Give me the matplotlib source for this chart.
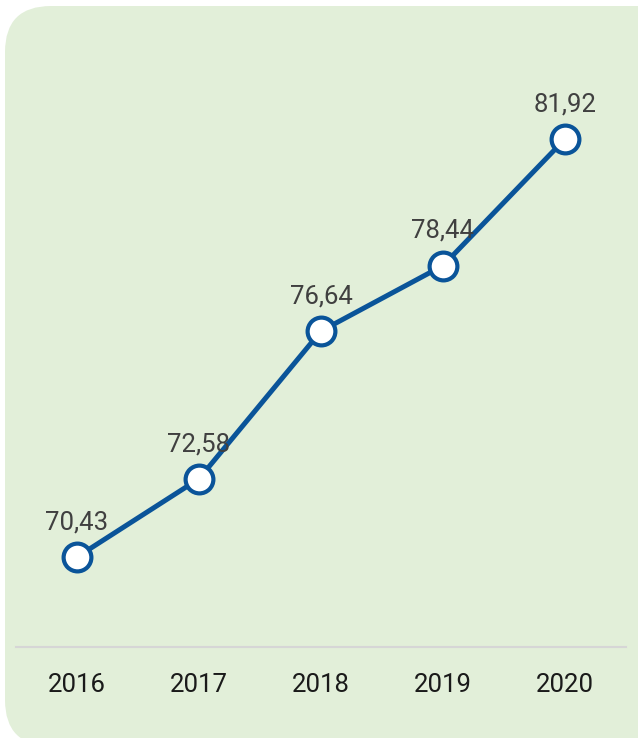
import matplotlib.pyplot as plt
from matplotlib.patches import FancyBboxPatch

# data
years = ['2016', '2017', '2018', '2019', '2020']
values = [70.43, 72.58, 76.64, 78.44, 81.92]
value_labels = ['70,43', '72,58', '76,64', '78,44', '81,92']

W, H = 638, 738
fig = plt.figure(figsize=(W / 100, H / 100), dpi=100)

# rounded green card behind everything
bg = fig.add_axes([0, 0, 1, 1])
bg.set_xlim(0, W)
bg.set_ylim(H, 0)
bg.axis('off')
card = FancyBboxPatch((5, 6), 690, 740, boxstyle='round,pad=0,rounding_size=46',
                      facecolor='#e2efd9', edgecolor='none')
bg.add_patch(card)

font = ['Roboto', 'DejaVu Sans']

ax = fig.add_axes([16 / W, 91 / H, 610 / W, 607 / H])
ax.patch.set_alpha(0)
x = range(len(years))
ax.plot(x, values, color='#0a5499', lw=3.6, marker='o', ms=20,
        mfc='white', mec='#0a5499', mew=3.0, zorder=3)

for i, (v, lab) in enumerate(zip(values, value_labels)):
    ax.annotate(lab, (i, v), xytext=(0, 20), textcoords='offset points',
                ha='center', va='baseline', fontsize=18.5, color='#404040',
                family=font)

ax.set_xlim(-0.5, 4.5)
ax.set_ylim(70.43 - 90 / 36.38, 81.92 + 99 / 36.38)
ax.set_xticks(list(x))
ax.set_xticklabels(years, family=font, fontsize=18.5, color='#1a1a1a')
ax.tick_params(axis='x', length=0, pad=18.5)
ax.set_yticks([])
for s in ['top', 'right', 'left']:
    ax.spines[s].set_visible(False)
ax.spines['bottom'].set_color('#d6d6d6')
ax.spines['bottom'].set_linewidth(1.5)

fig.savefig('out.png', dpi=100)
